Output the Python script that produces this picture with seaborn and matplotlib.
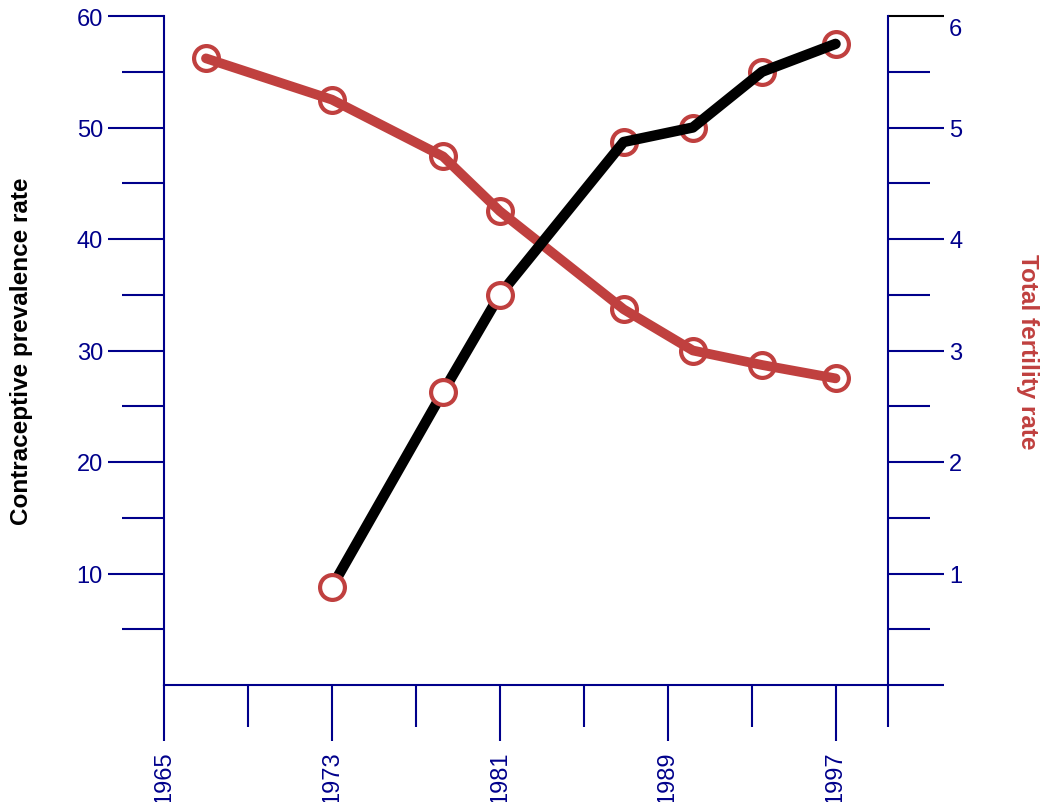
import numpy as np
import pandas as pd

import seaborn as sns
import matplotlib.pyplot as plt
from matplotlib.transforms import ScaledTranslation

# survey years and values
cpr_years = [1973, 1978.3, 1981, 1986.9, 1990.2, 1993.5, 1997]
cpr_values = [8.8, 26.3, 35.0, 48.7, 50.0, 55.0, 57.5]

tfr_years = [1967, 1973, 1978.3, 1981, 1986.9, 1990.2, 1993.5, 1997]
tfr_values = [5.62, 5.25, 4.74, 4.25, 3.37, 3.0, 2.87, 2.75]

x_major = [1965, 1973, 1981, 1989, 1997]
x_minor = [1969, 1977, 1985, 1993, 1999.5]

NAVY = '#00008B'
RED = '#C0403F'

sns.set_theme(style='white')
plt.rcParams['font.family'] = ['Liberation Sans', 'DejaVu Sans']

cpr_df = pd.DataFrame({'year': cpr_years, 'cpr': cpr_values})
tfr_df = pd.DataFrame({'year': tfr_years, 'tfr': tfr_values})

fig = plt.figure(figsize=(10.4, 8.03), dpi=100)
ax = fig.add_axes([164 / 1040, 1 - 686 / 803, 724 / 1040, 669 / 803])
ax2 = ax.twinx()

# fertility (right axis) - markers sit under the line
sns.scatterplot(data=tfr_df, x='year', y='tfr', ax=ax2, s=320,
                facecolor='white', edgecolor=RED, linewidth=3, zorder=1)
sns.lineplot(data=tfr_df, x='year', y='tfr', ax=ax2, color=RED,
             linewidth=7, zorder=2)

# prevalence (left axis) drawn above the twin axes
ax.set_zorder(ax2.get_zorder() + 1)
ax.patch.set_visible(False)
early = cpr_df.iloc[:3]
late = cpr_df.iloc[3:]
sns.scatterplot(data=late, x='year', y='cpr', ax=ax, s=320,
                facecolor='white', edgecolor=RED, linewidth=3, zorder=1)
sns.lineplot(data=cpr_df, x='year', y='cpr', ax=ax, color='black',
             linewidth=7.5, zorder=2)
sns.scatterplot(data=early, x='year', y='cpr', ax=ax, s=320,
                facecolor='white', edgecolor=RED, linewidth=3, zorder=3)

ax.set_xlim(1965, 1999.5)
ax.set_ylim(0, 60)
ax2.set_ylim(0, 6)

ax.set_xticks(x_major)
ax.set_xticks(x_minor, minor=True)
ax.set_xticklabels([str(y) for y in x_major], rotation=90)
ax.set_yticks(range(10, 61, 10))
ax.set_yticks(range(5, 60, 10), minor=True)
ax2.set_yticks(range(0, 7))
ax2.set_yticklabels([''] + [str(v) for v in range(1, 7)])
ax2.set_yticks(np.arange(0.5, 6, 1.0), minor=True)

for a in (ax, ax2):
    a.tick_params(which='major', length=40, width=1.5, color=NAVY,
                  labelcolor=NAVY, labelsize=17, direction='out', pad=4)
    a.tick_params(which='minor', length=30, width=1.5, color=NAVY,
                  direction='out')
    a.set_xlabel('')
    for s in a.spines.values():
        s.set_color(NAVY)
        s.set_linewidth(1.5)
    a.spines['top'].set_visible(False)

ax.tick_params(axis='x', which='major', pad=7)
ax.tick_params(axis='both', which='both', left=True, bottom=True)
ax2.tick_params(axis='y', which='both', right=True)
ax.spines['right'].set_visible(False)
ax2.spines['left'].set_visible(False)
ax2.spines['bottom'].set_visible(False)

ax.set_ylabel('Contraceptive prevalence rate', fontsize=17.5,
              fontweight='bold', color='black', va='center')
ax.yaxis.set_label_coords(-0.1975, 0.5)
ax2.set_ylabel('Total fertility rate', fontsize=17.5, fontweight='bold',
               color=RED, rotation=270, va='center')
ax2.yaxis.set_label_coords(1.193, 0.5)

fig.canvas.draw()

# top right tick is black in the original
top_tick = ax2.yaxis.get_major_ticks(7)[6]
top_tick.tick2line.set_markeredgecolor('black')
top_tick.tick2line.set_zorder(5)

# the "6" label sits a little below its tick
top_label = top_tick.label2
top_label.set_transform(top_label.get_transform() +
                        ScaledTranslation(0, -10 / 100, fig.dpi_scale_trans))

fig.savefig('out.png', dpi=100)
